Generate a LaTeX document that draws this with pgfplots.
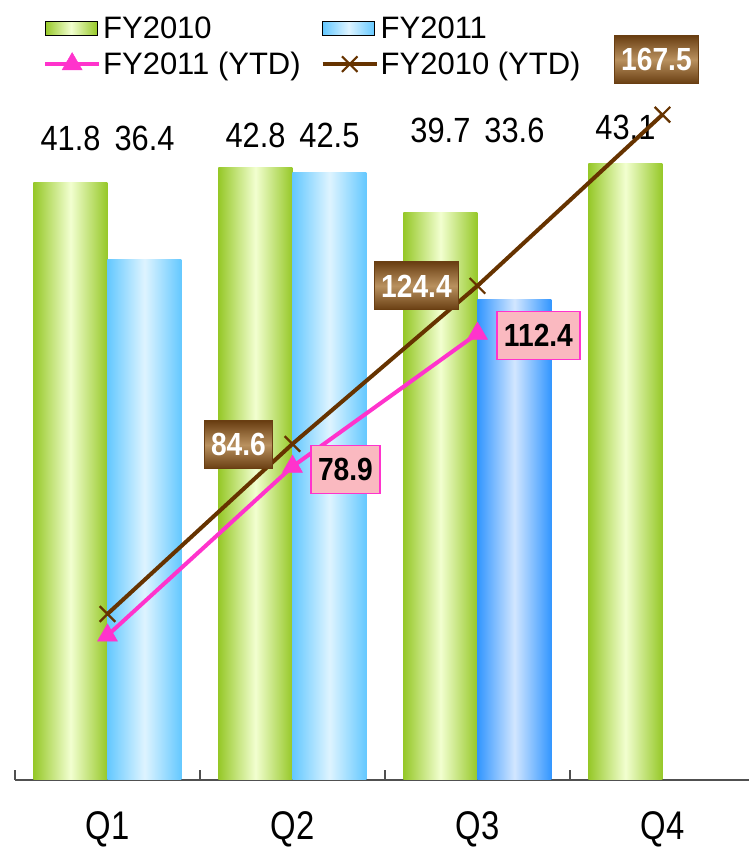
\documentclass[border=0pt]{standalone}
\usepackage{pgfplots}
\pgfplotsset{compat=1.18}
\usepackage{pgfplotstable}
\usepackage{fontspec}
\setmainfont{Liberation Sans}
\newfontfamily\condensed{Liberation Sans}[FakeStretch=0.88]
\newfontfamily\narrow{Liberation Sans}[FakeStretch=0.82]

\definecolor{greenD}{RGB}{150,200,40}
\definecolor{greenL}{RGB}{242,255,208}
\definecolor{blueD}{RGB}{100,200,255}
\definecolor{blueL}{RGB}{222,244,255}
\definecolor{blueQD}{RGB}{50,150,255}
\definecolor{blueQL}{RGB}{210,230,255}
\definecolor{ytdPink}{RGB}{255,51,204}
\definecolor{ytdBrown}{RGB}{102,51,0}
\definecolor{boxDark}{RGB}{105,62,18}
\definecolor{boxLight}{RGB}{185,145,95}
\definecolor{boxPink}{RGB}{250,185,192}
\definecolor{axisGray}{RGB}{80,80,80}

% quarterly sales (bars) and the height at which each value is printed
\pgfplotstableread{
q fy10 fy11 ly
0 41.8 36.4 44.85
1 42.8 42.5 45.06
2 39.7 33.6 45.41
3 43.1 nan  45.62
}\quarterly

% year-to-date totals; dx/dy place the value box relative to the point
\pgfplotstableread{
q ytd dx dy
0 41.8 0 0
1 84.6 -54 -1
2 124.4 -61 0
3 167.5 -6 55
}\ytdTen

\pgfplotstableread{
q ytd dx dy
0 36.4 0 0
1 78.9 53 -3
2 112.4 61 -2
}\ytdEleven

\tikzset{
  brownbox/.style={shape=rectangle, top color=boxDark, bottom color=boxDark, middle color=boxLight,
    draw=boxDark, line width=1pt, text=white, minimum height=48pt, inner xsep=7pt,
    font=\condensed\bfseries\fontsize{32}{36}\selectfont},
  pinkbox/.style={shape=rectangle, fill=boxPink, draw=ytdPink, line width=1.8pt, text=black,
    minimum height=48pt, inner xsep=7pt,
    font=\condensed\bfseries\fontsize{32}{36}\selectfont},
  valuelabel/.style={anchor=center, text=black, font=\condensed\fontsize{35}{38}\selectfont},
}

% one shaded bar per quarter, so that each bar gets its own gradient
\pgfplotsset{
  barTen/.style={ybar, bar width=0.4, bar shift=-0.2, draw=none,
    left color=greenD, right color=greenD, middle color=greenL,
    restrict x to domain=#1:#1},
  barEleven/.style={ybar, bar width=0.4, bar shift=0.2, draw=none,
    left color=blueD, right color=blueD, middle color=blueL,
    restrict x to domain=#1:#1},
  barElevenDark/.style={ybar, bar width=0.4, bar shift=0.2, draw=none,
    left color=blueQD, right color=blueQD, middle color=blueQL,
    restrict x to domain=#1:#1},
}

\begin{document}
\begin{tikzpicture}
\useasboundingbox (0,0) rectangle (749pt,851pt);

% bars: quarterly values
\begin{axis}[
  at={(15pt,71pt)}, anchor=south west,
  width=734pt, height=715pt, scale only axis,
  xmin=-0.5, xmax=3.468, ymin=0, ymax=50,
  axis x line=bottom, axis y line=none,
  x axis line style={-, draw=axisGray, line width=1.8pt},
  xtick={0,1,2,3}, xticklabels={Q1,Q2,Q3,Q4},
  major tick length=0pt,
  xticklabel style={font=\narrow\fontsize{40}{42}\selectfont, anchor=base,
    text height=29pt, text depth=0pt, inner sep=1pt, yshift=-59pt},
  extra x ticks={-0.5,0.5,1.5,2.5}, extra x tick labels={},
  extra x tick style={major tick length=10pt, tick align=inside,
    tick style={draw=axisGray, line width=1.5pt}},
  /pgf/number format/assume math mode=true,
  clip=false,
]
\addplot[barTen=0] table[x=q, y=fy10] {\quarterly};
\addplot[barTen=1] table[x=q, y=fy10] {\quarterly};
\addplot[barTen=2] table[x=q, y=fy10] {\quarterly};
\addplot[barTen=3] table[x=q, y=fy10] {\quarterly};
\addplot[barEleven=0] table[x=q, y=fy11] {\quarterly};
\addplot[barEleven=1] table[x=q, y=fy11] {\quarterly};
\addplot[barElevenDark=2] table[x=q, y=fy11] {\quarterly};

% printed values above each pair of bars
\addplot[draw=none, mark=none, nodes near coords, point meta=\thisrow{fy10},
  every node near coord/.append style={valuelabel}]
  table[x expr=\thisrow{q}-0.2, y=ly] {\quarterly};
\addplot[draw=none, mark=none, nodes near coords, point meta=\thisrow{fy11},
  restrict x to domain=0:2.5,
  every node near coord/.append style={valuelabel}]
  table[x expr=\thisrow{q}+0.2, y=ly] {\quarterly};
\end{axis}

% lines: year-to-date totals
\begin{axis}[
  at={(15pt,71pt)}, anchor=south west,
  width=734pt, height=715pt, scale only axis,
  xmin=-0.5, xmax=3.468, ymin=0, ymax=180,
  axis lines=none,
  /pgf/number format/assume math mode=true,
  clip=false,
  legend columns=2,
  legend cell align=left,
  legend image code/.code={\draw[mark repeat=2, mark phase=2, #1]
    plot coordinates {(0pt,0pt) (27pt,0pt) (54pt,0pt)};},
  legend style={at={(0.034,1.073)}, anchor=north west, draw=none, fill=none,
    font=\fontsize{31}{34}\selectfont, row sep=8pt,
    nodes={inner sep=2pt},
    /tikz/every even column/.append style={column sep=18pt}},
]
\addlegendimage{legend image code/.code={\shade[left color=greenD, right color=greenD, middle color=greenL]
  (0pt,-7pt) rectangle (52pt,7pt);}}
\addlegendentry{FY2010}
\addlegendimage{legend image code/.code={\shade[left color=blueD, right color=blueD, middle color=blueL]
  (0pt,-7pt) rectangle (52pt,7pt);}}
\addlegendentry{FY2011}

\addplot[ytdPink, line width=4pt, mark=triangle*, mark size=11.5pt,
  mark options={fill=ytdPink, draw=ytdPink, line width=0.5pt}]
  table[x=q, y=ytd] {\ytdEleven};
\addlegendentry{FY2011 (YTD)}
\addplot[ytdBrown, line width=4pt, mark=x, mark size=11pt,
  mark options={draw=ytdBrown, line width=2.2pt}]
  table[x=q, y=ytd] {\ytdTen};
\addlegendentry{FY2010 (YTD)}

% value boxes
\addplot[draw=none, mark=none, forget plot, restrict x to domain=1:3,
  point meta=y, nodes near coords,
  visualization depends on={\thisrow{dx} \as \dx},
  visualization depends on={\thisrow{dy} \as \dy},
  every node near coord/.append style={brownbox, anchor=center, xshift=\dx pt, yshift=\dy pt}]
  table[x=q, y=ytd] {\ytdTen};
\addplot[draw=none, mark=none, forget plot, restrict x to domain=1:2,
  point meta=y, nodes near coords,
  visualization depends on={\thisrow{dx} \as \dx},
  visualization depends on={\thisrow{dy} \as \dy},
  every node near coord/.append style={pinkbox, anchor=center, xshift=\dx pt, yshift=\dy pt}]
  table[x=q, y=ytd] {\ytdEleven};
\end{axis}
\end{tikzpicture}
\end{document}
